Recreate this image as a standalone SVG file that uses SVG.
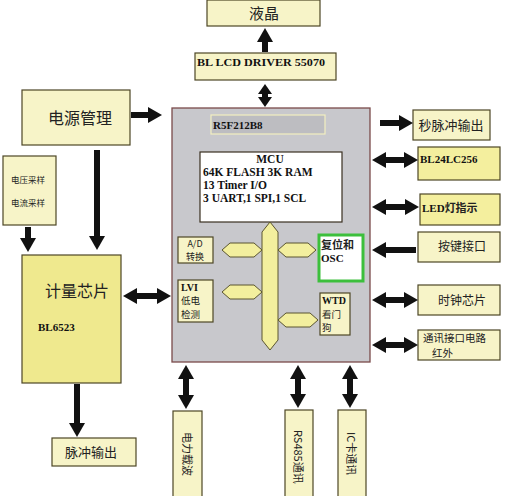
<svg xmlns="http://www.w3.org/2000/svg" width="508" height="496" viewBox="0 0 508 496">
<style>
.bx{fill:#f7f4c8;stroke:#4d4626;stroke-width:1.2}
.bx2{fill:#f4ef9e;stroke:#4d4626;stroke-width:1.2}
.bx3{fill:#efe98e;stroke:#4d4626;stroke-width:1.2}
.cn{font-family:"Noto Sans CJK SC","Noto Sans",sans-serif;fill:#222}
.en{font-family:"Liberation Serif",serif;font-weight:bold;fill:#111}
.ar{stroke:#111;stroke-width:6;fill:none}
.ya{fill:#f3ef9e;stroke:#5a5530;stroke-width:1}
</style>
<defs>
<marker id="ah" viewBox="0 0 14 16" markerWidth="14" markerHeight="16" refX="1" refY="8" orient="auto-start-reverse" markerUnits="userSpaceOnUse"><path d="M0,0 L14,8 L0,16 z" fill="#111"/></marker>
<marker id="ahs" viewBox="0 0 10 14" markerWidth="10" markerHeight="14" refX="1" refY="7" orient="auto-start-reverse" markerUnits="userSpaceOnUse"><path d="M0,0 L10,7 L0,14 z" fill="#111"/></marker>
</defs>
<rect width="508" height="496" fill="#fff"/>

<g id="lcd"><rect class="bx" x="207" y="0" width="113" height="26"/><text class="cn" x="264" y="19" font-size="15" text-anchor="middle">液晶</text></g>
<g id="driver"><rect class="bx" x="195" y="53" width="141" height="27"/><text class="en" x="197" y="66" font-size="11" textLength="128" lengthAdjust="spacingAndGlyphs">BL LCD DRIVER 55070</text></g>
<g id="power"><rect class="bx" x="22" y="90" width="108" height="55"/><text class="cn" x="80" y="124" font-size="16" text-anchor="middle">电源管理</text></g>
<g id="sample"><rect class="bx" x="3" y="156" width="53" height="69"/><text class="cn" x="28" y="183" font-size="8.5" text-anchor="middle">电压采样</text><text class="cn" x="28" y="206" font-size="8.5" text-anchor="middle">电流采样</text></g>
<g id="meter"><rect class="bx3" x="22" y="255" width="99" height="128"/><text class="cn" x="77" y="297" font-size="16" text-anchor="middle">计量芯片</text><text class="en" x="38" y="331" font-size="11">BL6523</text></g>
<g id="pulse"><rect class="bx" x="52" y="438" width="84" height="28"/><text class="cn" x="91" y="457" font-size="13" text-anchor="middle">脉冲输出</text></g>

<g id="mcu">
<rect x="172" y="108" width="198" height="254" fill="#c8c8cc" stroke="#7a4b4b" stroke-width="1.3"/>
<g id="r5f"><rect x="211" y="115" width="114" height="19" fill="#bdbdc1" stroke="#f2efc0" stroke-width="1.2"/><text class="en" x="213" y="129" font-size="11">R5F212B8</text></g>
<g id="core"><rect x="200" y="152" width="142" height="70" fill="#fff" stroke="#3a3020" stroke-width="1.2"/>
<text class="en" x="270" y="163" font-size="11.5" text-anchor="middle">MCU</text>
<text class="en" x="203" y="176" font-size="11.5">64K FLASH 3K RAM</text>
<text class="en" x="203" y="189" font-size="11.5">13 Timer I/O</text>
<text class="en" x="203" y="202" font-size="11.5">3 UART,1 SPI,1 SCL</text></g>
<g id="ad"><rect class="bx" x="178" y="237" width="35" height="26"/><text class="cn" x="195" y="247" font-size="9" text-anchor="middle">A/D</text><text class="cn" x="195" y="260" font-size="9" text-anchor="middle">转换</text></g>
<g id="lvi"><rect class="bx" x="178" y="280" width="35" height="42"/><text class="en" x="181" y="291" font-size="10" font-weight="normal">LVI</text><text class="cn" x="181" y="304" font-size="9.5">低电</text><text class="cn" x="181" y="318" font-size="9.5">检测</text></g>
<g id="rst"><rect x="319" y="235" width="44" height="46" fill="#fff" stroke="#3cbf3c" stroke-width="3"/><text class="cn" x="321" y="249" font-size="11" font-weight="bold">复位和</text><text class="en" x="321" y="262" font-size="11">OSC</text></g>
<g id="wtd"><rect class="bx" x="320" y="293" width="30" height="42"/><text class="en" x="322" y="304" font-size="10" font-weight="normal">WTD</text><text class="cn" x="322" y="318" font-size="9.5">看门</text><text class="cn" x="322" y="331" font-size="9.5">狗</text></g>
<g id="bus">
<path class="ya" d="M270,222 L278,232 L278,340 L270,350 L262,340 L262,232 z"/>
<path class="ya" d="M222,250 L230,243 L254,243 L262,250 L254,257 L230,257 z"/>
<path class="ya" d="M278,250 L286,243 L308,243 L316,250 L308,257 L286,257 z"/>
<path class="ya" d="M222,292 L230,285 L254,285 L262,292 L254,299 L230,299 z"/>
<path class="ya" d="M278,320 L286,313 L310,313 L318,320 L310,327 L286,327 z"/>
</g>
</g>

<g id="sec"><rect class="bx" x="413" y="110" width="77" height="30"/><text class="cn" x="451" y="130" font-size="13" text-anchor="middle">秒脉冲输出</text></g>
<g id="eep"><rect class="bx2" x="418" y="147" width="82" height="33"/><text class="en" x="420" y="163" font-size="11">BL24LC256</text></g>
<g id="led"><rect class="bx2" x="420" y="194" width="80" height="31"/><text class="en" x="422" y="212" font-size="11">LED<tspan class="cn" font-weight="bold" font-size="11">灯指示</tspan></text></g>
<g id="key"><rect class="bx" x="418" y="232" width="82" height="30"/><text class="cn" x="462" y="251" font-size="12" text-anchor="middle">按键接口</text></g>
<g id="clk"><rect class="bx" x="418" y="285" width="82" height="30"/><text class="cn" x="462" y="305" font-size="12" text-anchor="middle">时钟芯片</text></g>
<g id="comm"><rect class="bx" x="418" y="330" width="82" height="30"/><text class="cn" x="423" y="342" font-size="10.5">通讯接口电路</text><text class="cn" x="432" y="357" font-size="10.5">红外</text></g>

<g id="plc"><rect class="bx" x="173" y="411" width="29" height="90"/><text class="cn" font-size="11" transform="translate(183,432) rotate(90)">电力载波</text></g>
<g id="rs485"><rect class="bx" x="285" y="410" width="28" height="90"/><text class="cn" font-size="11" transform="translate(294,430) rotate(90)">RS485通讯</text></g>
<g id="ic"><rect class="bx" x="338" y="410" width="28" height="90"/><text class="cn" font-size="11" transform="translate(347,432) rotate(90)">IC卡通讯</text></g>

<g id="connectors">
<line class="ar" x1="265" y1="52" x2="265" y2="41" marker-end="url(#ah)"/>
<line class="ar" x1="265" y1="93" x2="265" y2="98" marker-start="url(#ahs)" marker-end="url(#ahs)"/>
<line class="ar" x1="131" y1="115" x2="149" y2="115" marker-end="url(#ah)"/>
<line class="ar" x1="97" y1="150" x2="97" y2="237" marker-end="url(#ah)"/>
<line class="ar" x1="28" y1="227" x2="28" y2="239" marker-end="url(#ah)"/>
<line class="ar" x1="136" y1="296" x2="158" y2="296" marker-start="url(#ah)" marker-end="url(#ah)"/>
<line class="ar" x1="77" y1="384" x2="77" y2="424" marker-end="url(#ah)"/>
<line class="ar" x1="380" y1="123" x2="400" y2="123" marker-end="url(#ah)"/>
<line class="ar" x1="385" y1="160" x2="405" y2="160" marker-start="url(#ah)" marker-end="url(#ah)"/>
<line class="ar" x1="385" y1="207" x2="406" y2="207" marker-start="url(#ah)" marker-end="url(#ah)"/>
<line class="ar" x1="416" y1="250" x2="385" y2="250" marker-end="url(#ah)"/>
<line class="ar" x1="385" y1="300" x2="405" y2="300" marker-start="url(#ah)" marker-end="url(#ah)"/>
<line class="ar" x1="385" y1="345" x2="405" y2="345" marker-start="url(#ah)" marker-end="url(#ah)"/>
<line class="ar" x1="186" y1="378" x2="186" y2="396" marker-start="url(#ah)" marker-end="url(#ah)"/>
<line class="ar" x1="298" y1="378" x2="298" y2="395" marker-start="url(#ah)" marker-end="url(#ah)"/>
<line class="ar" x1="350" y1="378" x2="350" y2="395" marker-start="url(#ah)" marker-end="url(#ah)"/>
</g>
</svg>
